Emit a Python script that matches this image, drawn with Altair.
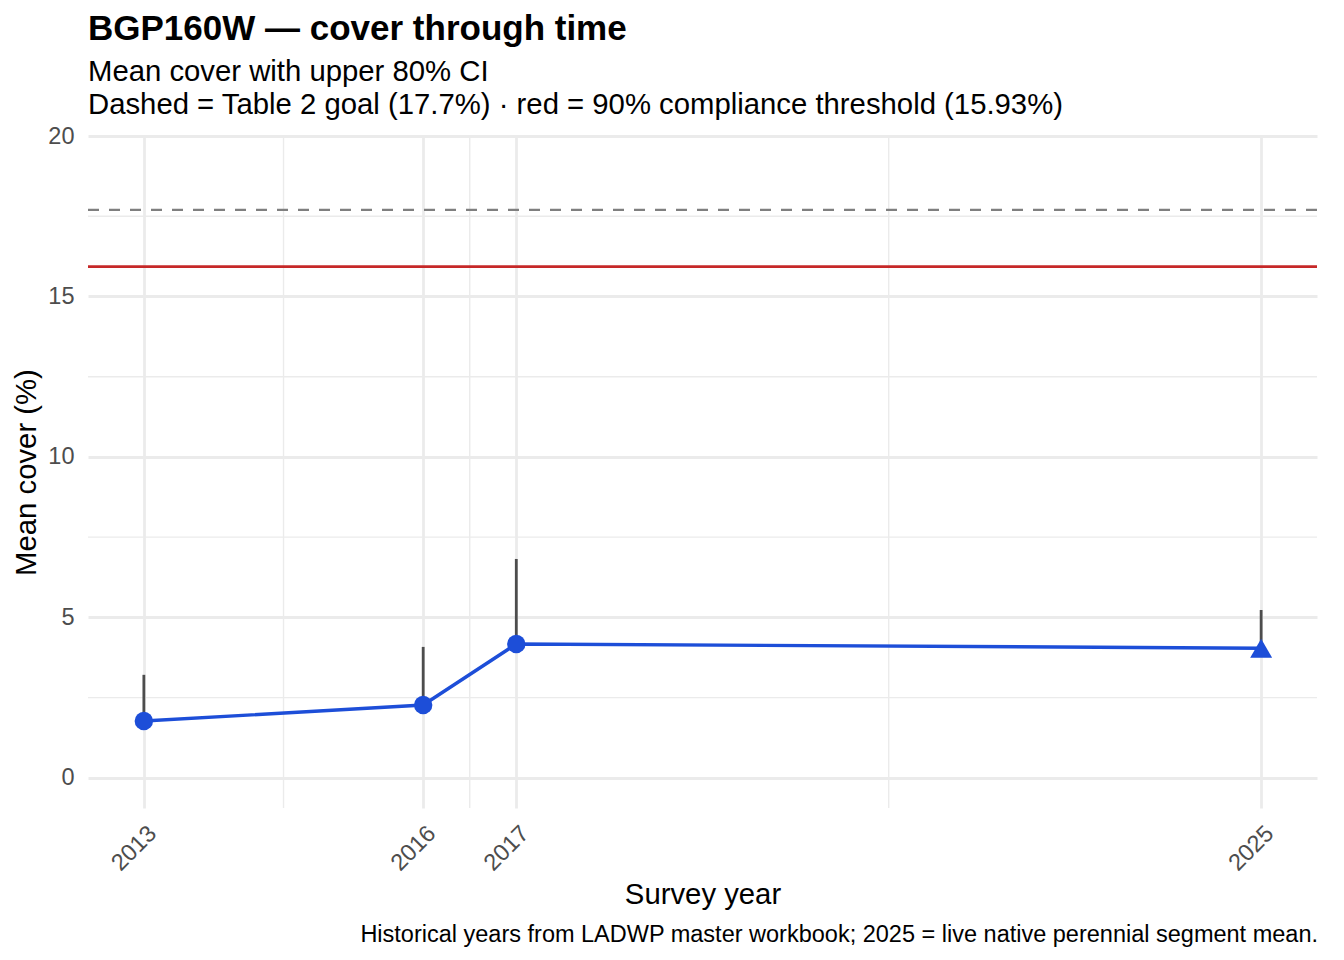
import altair as alt
import pandas as pd

# ---- data ----
years = [2013, 2016, 2017, 2025]
mean_cover = [1.77, 2.27, 4.17, 4.04]
upper_ci = [3.21, 4.08, 6.82, 5.23]
source = ["Historical", "Historical", "Historical", "Live 2025"]
goal = [17.7]
threshold = [15.93]
x_breaks = [2013, 2016, 2017, 2025]
x_minor = [2014.5, 2016.5, 2021]
y_breaks = [0, 5, 10, 15, 20]
y_minor = [2.5, 7.5, 12.5, 17.5]

title_text = "BGP160W \u2014 cover through time"
subtitle_lines = [
    "Mean cover with upper 80% CI",
    "Dashed = Table 2 goal (17.7%) \u00b7 red = 90% compliance threshold (15.93%)",
]
caption_text = "Historical years from LADWP master workbook; 2025 = live native perennial segment mean."

FONT = "Liberation Sans"
BLUE = "#1D4ED8"
GRID = "#EBEBEB"
W, H = 1229, 672

x_scale = alt.Scale(domain=[2012.4, 2025.6], nice=False, zero=False)
y_scale = alt.Scale(domain=[-0.94, 20], nice=False, zero=False)
XT = "Survey year"
YT = "Mean cover (%)"

x_axis = alt.Axis(values=x_breaks, format="d", labelAngle=-45, labelAlign="right",
                  labelBaseline="top", labelPadding=13, grid=True, gridColor=GRID,
                  gridWidth=2.8, titlePadding=6)
y_axis = alt.Axis(values=y_breaks, format="d", grid=True, gridColor=GRID, gridWidth=2.8,
                  labelPadding=14, titlePadding=6)

df = pd.DataFrame({"year": years, "mean": mean_cover, "upper": upper_ci, "source": source})

minor_v = alt.Chart(pd.DataFrame({"year": x_minor})).mark_rule(
    color=GRID, strokeWidth=1.4
).encode(x=alt.X("year:Q", scale=x_scale, axis=x_axis, title=XT))

minor_h = alt.Chart(pd.DataFrame({"mean": y_minor})).mark_rule(
    color=GRID, strokeWidth=1.4
).encode(y=alt.Y("mean:Q", scale=y_scale, axis=y_axis, title=YT))

goal_rule = alt.Chart(pd.DataFrame({"mean": goal})).mark_rule(
    color="#7F7F7F", strokeWidth=2.3, strokeDash=[11, 10]
).encode(y=alt.Y("mean:Q", scale=y_scale, title=YT))

thr_rule = alt.Chart(pd.DataFrame({"mean": threshold})).mark_rule(
    color="#C62828", strokeWidth=2.7
).encode(y=alt.Y("mean:Q", scale=y_scale, title=YT))

base = alt.Chart(df)

err = base.mark_rule(color="#4D4D4D", strokeWidth=2.8).encode(
    x=alt.X("year:Q", scale=x_scale, title=XT),
    y=alt.Y("mean:Q", scale=y_scale, title=YT),
    y2="upper:Q",
)

line = base.mark_line(color=BLUE, strokeWidth=3.4).encode(
    x=alt.X("year:Q", scale=x_scale, title=XT),
    y=alt.Y("mean:Q", scale=y_scale, title=YT),
)

pts = base.mark_point(filled=True, opacity=1, color=BLUE).encode(
    x=alt.X("year:Q", scale=x_scale, title=XT),
    y=alt.Y("mean:Q", scale=y_scale, title=YT),
    shape=alt.Shape("source:N", scale=alt.Scale(domain=["Historical", "Live 2025"],
                                                 range=["circle", "triangle-up"]), legend=None),
    size=alt.Size("source:N", scale=alt.Scale(domain=["Historical", "Live 2025"],
                                               range=[340, 480]), legend=None),
)

caption = alt.Chart(pd.DataFrame({"caption": [caption_text]})).mark_text(
    align="right", baseline="alphabetic", font=FONT, fontSize=23.5, color="black"
).encode(x=alt.value(W + 1), y=alt.value(H + 134), text="caption:N")

chart = alt.layer(minor_v, minor_h, goal_rule, thr_rule, err, line, pts, caption).properties(
    width=W,
    height=H,
    autosize=alt.AutoSizeParams(type="none"),
    padding={"left": 80, "top": 128, "right": 19, "bottom": 140},
    title=alt.TitleParams(
        text=title_text,
        subtitle=subtitle_lines,
        anchor="start",
        frame="group",
        font=FONT,
        fontSize=35,
        fontWeight="bold",
        color="black",
        subtitleFont=FONT,
        subtitleFontSize=29.3,
        subtitleColor="black",
        subtitleLineHeight=33,
        subtitlePadding=11,
        offset=4,
    ),
).configure_view(stroke=None).configure_axis(
    domain=False,
    ticks=False,
    labelFont=FONT,
    labelFontSize=23.5,
    labelColor="#4D4D4D",
    titleFont=FONT,
    titleFontSize=29.3,
    titleFontWeight="normal",
    titleColor="black",
)

chart.save("out.html", embed_options={"renderer": "svg", "actions": False})
